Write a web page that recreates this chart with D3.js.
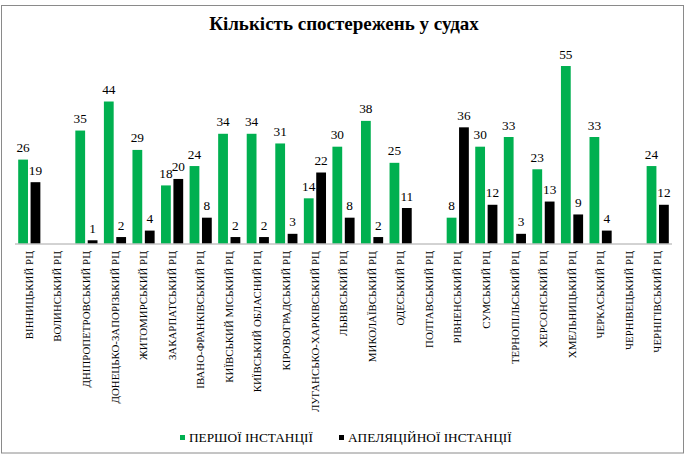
<!DOCTYPE html>
<html>
<head>
<meta charset="utf-8">
<script src="https://cdn.jsdelivr.net/npm/d3@7"></script>
<style>
  body { margin: 0; background: #fff; }
</style>
</head>
<body>
<div id="chart"></div>
<script>
// Categories (regional centres) and the two series
const courts = [
  "ВІННИЦЬКИЙ РЦ", "ВОЛИНСЬКИЙ РЦ", "ДНІПРОПЕТРОВСЬКИЙ РЦ", "ДОНЕЦЬКО-ЗАПОРІЗЬКИЙ РЦ",
  "ЖИТОМИРСЬКИЙ РЦ", "ЗАКАРПАТСЬКИЙ РЦ", "ІВАНО-ФРАНКІВСЬКИЙ РЦ", "КИЇВСЬКИЙ МІСЬКИЙ РЦ",
  "КИЇВСЬКИЙ ОБЛАСНИЙ РЦ", "КІРОВОГРАДСЬКИЙ РЦ", "ЛУГАНСЬКО-ХАРКІВСЬКИЙ РЦ", "ЛЬВІВСЬКИЙ РЦ",
  "МИКОЛАЇВСЬКИЙ РЦ", "ОДЕСЬКИЙ РЦ", "ПОЛТАВСЬКИЙ РЦ", "РІВНЕНСЬКИЙ РЦ", "СУМСЬКИЙ РЦ",
  "ТЕРНОПІЛЬСЬКИЙ РЦ", "ХЕРСОНСЬКИЙ РЦ", "ХМЕЛЬНИЦЬКИЙ РЦ", "ЧЕРКАСЬКИЙ РЦ",
  "ЧЕРНІВЕЦЬКИЙ РЦ", "ЧЕРНІГІВСЬКИЙ РЦ"
];
const firstInstance = [26, null, 35, 44, 29, 18, 24, 34, 34, 31, 14, 30, 38, 25, null, 8, 30, 33, 23, 55, 33, null, 24];
const appealInstance = [19, null, 1, 2, 4, 20, 8, 2, 2, 3, 22, 8, 2, 11, null, 36, 12, 3, 13, 9, 4, null, 12];
const seriesNames = ["ПЕРШОЇ ІНСТАНЦІЇ", "АПЕЛЯЦІЙНОЇ ІНСТАНЦІЇ"];
const seriesColors = ["#00b050", "#000000"];

const serif = "'Liberation Serif', serif";
const width = 688, height = 458;
const svg = d3.select("#chart").append("svg")
  .attr("width", width).attr("height", height)
  .style("font-family", serif);

// outer frame
svg.append("rect")
  .attr("x", 1.5).attr("y", 5.5).attr("width", 682).attr("height", 447.5)
  .attr("fill", "#fff").attr("stroke", "#8a8a8a").attr("stroke-width", 1);

svg.append("text")
  .attr("x", 344).attr("y", 30)
  .attr("text-anchor", "middle")
  .style("font-family", serif)
  .attr("font-size", 19).attr("font-weight", "bold")
  .text("Кількість спостережень у судах");

const baseY = 243.5;
const x = d3.scaleBand().domain(courts).range([15, 672]).padding(0);
const inner = d3.scaleBand().domain([0, 1]).range([3.2, x.bandwidth() - 3.2]).paddingInner(0.21);
const y = d3.scaleLinear().domain([0, 60]).range([baseY, baseY - 60 * 3.227]);

const rows = courts.map((c, i) => ({ court: c, values: [firstInstance[i], appealInstance[i]] }));

const groups = svg.append("g").selectAll("g")
  .data(rows).join("g")
  .attr("transform", (d) => `translate(${x(d.court)},0)`);

const cells = groups.selectAll("g.cell")
  .data((d) => d.values.map((v, k) => ({ v, k })).filter((e) => e.v !== null))
  .join("g").attr("class", "cell");

cells.append("rect")
  .attr("x", (d) => inner(d.k))
  .attr("y", (d) => y(d.v))
  .attr("width", inner.bandwidth())
  .attr("height", (d) => baseY - y(d.v))
  .attr("fill", (d) => seriesColors[d.k]);

cells.append("text")
  .attr("x", (d) => inner(d.k) + inner.bandwidth() / 2)
  .attr("y", (d) => y(d.v) - 7.5)
  .attr("text-anchor", "middle")
  .style("font-family", serif)
  .attr("font-size", 13.3)
  .attr("fill", "#000")
  .text((d) => d.v);

// category axis
const xAxis = svg.append("g")
  .attr("transform", `translate(0,${baseY})`)
  .call(d3.axisBottom(x).tickSize(0).tickPadding(0));
xAxis.select(".domain").attr("stroke", "#a6a6a6").attr("d", "M15,0.5H672");
xAxis.selectAll(".tick text")
  .style("font-family", serif)
  .attr("font-size", 10.9)
  .attr("fill", "#000")
  .attr("text-anchor", "end")
  .attr("y", 0).attr("x", 0)
  .attr("dy", "0.33em")
  .attr("transform", "translate(0,7.5) rotate(-90)");

// legend
const legendItems = [{ x: 180, i: 0 }, { x: 339, i: 1 }];
const legend = svg.append("g").selectAll("g").data(legendItems).join("g")
  .attr("transform", (d) => `translate(${d.x},435)`);
legend.append("rect").attr("width", 5).attr("height", 5).attr("fill", (d) => seriesColors[d.i]);
legend.append("text").attr("x", 9).attr("y", 7).attr("font-size", 13.3)
  .style("font-family", serif)
  .text((d) => seriesNames[d.i]);
</script>
</body>
</html>
